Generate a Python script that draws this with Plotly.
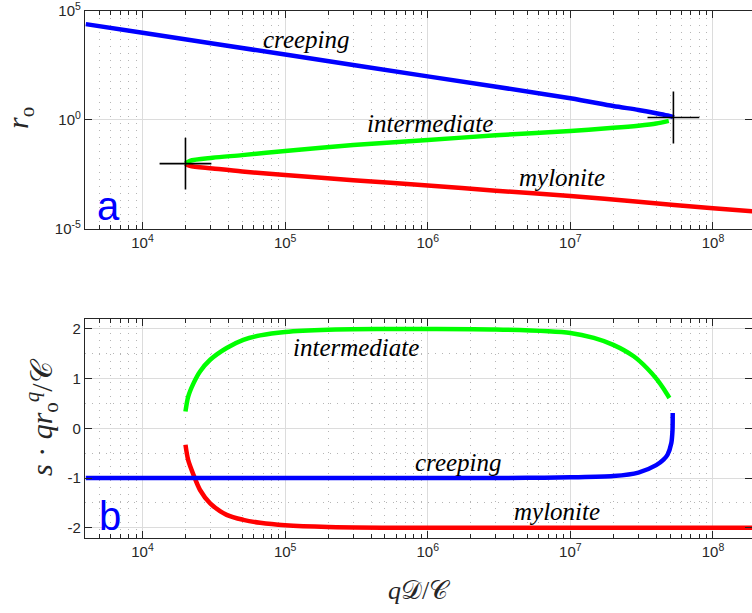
import plotly.graph_objects as go

# ---------------- data ----------------
# panel a : r_o versus qD/C
top_blue_x = [4e3, 1e4, 1e5, 1e6, 1e7, 2e7, 3e7, 4e7, 4.8e7, 5.2e7, 5.28e7]
top_blue_r = [2.5e4, 1e4, 1e3, 1e2, 1e1, 4.4, 2.9, 2.05, 1.6, 1.4, 1.3]

top_green_x = [2.0e4, 2.15e4, 3.1e4, 5.0e4, 1e5, 3e5, 1e6, 3e6, 1e7, 2e7, 3e7, 4e7, 4.9e7]
top_green_r = [1e-2, 1.35e-2, 1.86e-2, 2.45e-2, 3.8e-2, 7.1e-2, 0.12, 0.2, 0.316, 0.436, 0.55, 0.69, 0.91]

top_red_x = [2.0e4, 2.15e4, 3.1e4, 5.0e4, 1e5, 3e5, 1e6, 3e6, 1e7, 3e7, 1e8, 2e8]
top_red_r = [1e-2, 7.8e-3, 6.0e-3, 4.3e-3, 3.0e-3, 1.74e-3, 1e-3, 5.75e-4, 3.24e-4, 1.78e-4, 8.9e-5, 6.3e-5]

fold_x = [2.0e4, 5.28e7]
fold_r = [1e-2, 1.3]

# panel b : s*q*r_o^q/C versus qD/C
bot_blue_x = [4e3, 1e4, 1e5, 1e6, 5e6, 1e7, 2e7, 3e7, 4e7, 4.5e7, 4.8e7, 5.1e7, 5.2e7, 5.22e7]
bot_blue_v = [-1.0, -1.0, -1.0, -1.0, -0.995, -0.985, -0.96, -0.89, -0.74, -0.63, -0.53, -0.30, -0.05, 0.31]

bot_green_x = [2.0e4, 2.09e4, 2.28e4, 2.53e4, 2.98e4, 3.89e4, 5.09e4, 6.68e4, 1e5, 2e5, 5e5,
               1e6, 3e6, 1e7, 1.46e7, 2e7, 2.78e7, 3.45e7, 4.06e7, 4.52e7, 4.95e7]
bot_green_v = [0.34, 0.64, 0.91, 1.145, 1.38, 1.617, 1.78, 1.87, 1.94, 1.985, 1.998,
               2.0, 1.99, 1.92, 1.82, 1.68, 1.45, 1.21, 0.98, 0.79, 0.61]

bot_red_x = [2.0e4, 2.09e4, 2.28e4, 2.53e4, 2.98e4, 3.89e4, 5.09e4, 6.68e4, 1e5, 2e5, 5e5,
             1e6, 1e7, 1e8, 2e8]
bot_red_v = [-0.33, -0.64, -0.94, -1.24, -1.51, -1.74, -1.84, -1.90, -1.95, -1.985, -1.998,
             -2.0, -2.0, -2.0, -2.0]

# ticks
x_tickvals = [1e4, 1e5, 1e6, 1e7, 1e8]
x_ticktext = ["10<sup>4</sup>", "10<sup>5</sup>", "10<sup>6</sup>", "10<sup>7</sup>", "10<sup>8</sup>"]
x_minor = [m * 10 ** e for e in range(3, 9) for m in range(2, 10)]
ya_tickvals = [1e-5, 1, 1e5]
ya_ticktext = ["10<sup>-5</sup>", "10<sup>0</sup>", "10<sup>5</sup>"]
yb_tickvals = [-2, -1, 0, 1, 2]
yb_ticktext = ["-2", "-1", "0", "1", "2"]
yb_minor = [-1.5, -0.5, 0.5, 1.5]

# ---------------- figure ----------------
BLUE, GREEN, RED = "#0000ff", "#00ff00", "#ff0000"
LW = 4.5
fig = go.Figure()

def line(x, y, color, xa, ya):
    fig.add_trace(go.Scatter(x=x, y=y, mode="lines", xaxis=xa, yaxis=ya,
                             line=dict(color=color, width=LW, shape="spline", smoothing=0.8),
                             hoverinfo="skip"))

line(top_red_x, top_red_r, RED, "x", "y")
line(top_green_x, top_green_r, GREEN, "x", "y")
line(top_blue_x, top_blue_r, BLUE, "x", "y")
fig.add_trace(go.Scatter(x=fold_x, y=fold_r, mode="markers", xaxis="x", yaxis="y",
                         marker=dict(symbol="cross-thin", size=37,
                                     line=dict(color="black", width=1.6)),
                         hoverinfo="skip"))

line(bot_red_x, bot_red_v, RED, "x2", "y2")
line(bot_green_x, bot_green_v, GREEN, "x2", "y2")
line(bot_blue_x, bot_blue_v, BLUE, "x2", "y2")

AX = "#262626"
MAJ_GRID = "#dcdcdc"
MIN_GRID = "#b5b5b5"
DOT = "1px,6px"
tickfont = dict(family="Liberation Sans, Arial, sans-serif", size=15, color=AX)
xcommon = dict(type="log", range=[3.5965, 8.2737], domain=[0, 1], automargin=False,
               tickmode="array", tickvals=x_tickvals, ticktext=x_ticktext,
               ticks="inside", ticklen=7, tickwidth=1, tickcolor=AX,
               showline=True, linecolor=AX, linewidth=1.3, mirror="ticks",
               showgrid=True, gridcolor=MAJ_GRID, gridwidth=1.3,
               tickfont=tickfont, zeroline=False, ticklabeloverflow="allow",
               minor=dict(tickmode="array", tickvals=x_minor, ticks="inside", ticklen=4,
                          tickcolor=AX, showgrid=True, gridcolor=MIN_GRID,
                          griddash=DOT, gridwidth=1.2))

fig.update_layout(
    width=752, height=613,
    margin=dict(l=85, r=0, t=0, b=0, autoexpand=False),
    plot_bgcolor="white", paper_bgcolor="white", showlegend=False,
    xaxis=dict(anchor="y", **xcommon),
    xaxis2=dict(anchor="y2", **xcommon),
    yaxis=dict(type="log", range=[-5, 5], domain=[0.6264, 0.9821], anchor="x",
               automargin=False, ticklabeloverflow="allow",
               tickmode="array", tickvals=ya_tickvals, ticktext=ya_ticktext,
               ticks="inside", ticklen=7, tickcolor=AX, showline=True, linecolor=AX,
               linewidth=1.3, mirror="ticks", showgrid=True, gridcolor=MAJ_GRID,
               gridwidth=1.3, tickfont=tickfont, zeroline=False),
    yaxis2=dict(range=[-2.2, 2.2], domain=[0.1228, 0.4796], anchor="x2",
                automargin=False, ticklabeloverflow="allow",
                tickmode="array", tickvals=yb_tickvals, ticktext=yb_ticktext,
                ticks="inside", ticklen=7, tickcolor=AX, showline=True, linecolor=AX,
                linewidth=1.3, mirror="ticks", showgrid=True, gridcolor=MAJ_GRID,
                gridwidth=1.3, tickfont=tickfont, zeroline=False,
                minor=dict(tickmode="array", tickvals=yb_minor, ticks="",
                           showgrid=True, gridcolor=MIN_GRID, griddash=DOT, gridwidth=1.2)),
)

SERIF = "Liberation Serif, Times New Roman, serif"
lab = dict(family=SERIF, size=25, color="black")

def txt(text, x, y, xref, yref, font, **kw):
    fig.add_annotation(text=text, x=x, y=y, xref=xref, yref=yref, showarrow=False,
                       font=font, xanchor="center", yanchor="middle", **kw)

# curve labels (positions in log10 units for log axes)
txt("<i>creeping</i>", 5.151, 3.67, "x", "y", lab)
txt("<i>intermediate</i>", 6.018, -0.14, "x", "y", lab)
txt("<i>mylonite</i>", 6.944, -2.615, "x", "y", lab)
txt("<i>intermediate</i>", 5.498, 1.623, "x2", "y2", lab)
txt("<i>creeping</i>", 6.214, -0.696, "x2", "y2", lab)
txt("<i>mylonite</i>", 6.909, -1.663, "x2", "y2", lab)

panel = dict(family="Liberation Sans, Arial, sans-serif", size=40, color=BLUE)
txt("a", 3.761, -3.94, "x", "y", panel)
txt("b", 3.772, -1.764, "x2", "y2", panel)

title = dict(family=SERIF, size=30, color=AX)
txt("<i>r</i><sub>o</sub>", -0.0975, 0.8075, "paper", "paper", title, textangle=-90)
txt("<i>s</i> · <i>qr</i><sub>o</sub><sup><i>q</i></sup>/𝒞", -0.066, 0.3197, "paper", "paper",
    title, textangle=-90)
txt("<i>q</i>𝒟/𝒞", 0.5022, 0.036, "paper", "paper", dict(family=SERIF, size=26, color=AX))

fig.write_html("out.html")
